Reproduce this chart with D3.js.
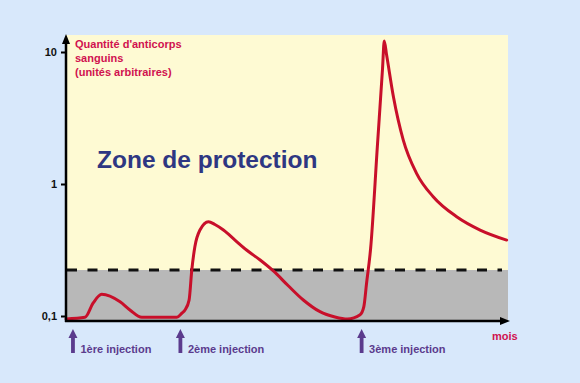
<!DOCTYPE html>
<html><head><meta charset="utf-8">
<script src="https://cdn.jsdelivr.net/npm/d3@7"></script>
<style>
html,body{margin:0;padding:0;background:#d8e8fb;}
svg{display:block;font-family:"Liberation Sans",Arial,Helvetica,sans-serif;font-weight:700;}
svg text{font-weight:700;}
</style></head><body>
<svg id="c" width="580" height="383"></svg>
<script>
// ---- data ----
const months = [0, 0.56, 0.80, 1.05, 1.59, 1.88, 2.23, 3.26, 3.41, 3.50, 3.62, 3.70, 3.79, 3.94, 4.19, 4.38, 4.63, 4.97, 5.31, 5.71, 6.10, 6.53, 6.98, 7.47, 7.91, 8.28, 8.65, 8.76, 8.84, 8.96, 9.16, 9.31, 9.36, 9.43, 9.63, 9.92, 10.31, 10.80, 11.49, 12.18, 12.96];
const anticorps = [0.0949, 0.0977, 0.1255, 0.146, 0.128, 0.111, 0.0977, 0.0977, 0.105, 0.111, 0.132, 0.223, 0.335, 0.448, 0.518, 0.4934, 0.448, 0.3764, 0.316, 0.2656, 0.2193, 0.1702, 0.1322, 0.1078, 0.0983, 0.0948, 0.102, 0.1176, 0.177, 0.326, 1.97, 7.5, 12.1, 9.49, 4.58, 2.15, 1.205, 0.801, 0.565, 0.448, 0.376];
const injectionMonths = [0.19, 3.35, 8.68];
const injectionLabels = ["1ère injection", "2ème injection", "3ème injection"];
const yTicks = [10, 1, 0.1];
const yTickLabels = ["10", "1", "0,1"];
const protectionThreshold = 0.223;
const xDomain = [0, 13];
const yDomainFull = [0.0917, 13.45];

// ---- layout ----
const svg = d3.select("#c");
const mLeft = 66, mRight = 508, mTop = 35, mBottom = 321;
const x = d3.scaleLinear().domain(xDomain).range([mLeft, mRight]);
const y = d3.scaleLog().domain([0.1, 10]).range([316, 52]);

// zones
svg.append("rect").attr("x", mLeft).attr("y", y(yDomainFull[1]))
  .attr("width", mRight - mLeft).attr("height", y(protectionThreshold) - y(yDomainFull[1]))
  .attr("fill", "#fefad3");
svg.append("rect").attr("x", mLeft).attr("y", y(protectionThreshold))
  .attr("width", mRight - mLeft).attr("height", y(yDomainFull[0]) - y(protectionThreshold))
  .attr("fill", "#b8b8b8");

// dashed threshold
svg.append("line").attr("x1", mLeft + 1).attr("x2", mRight - 6)
  .attr("y1", y(protectionThreshold)).attr("y2", y(protectionThreshold))
  .attr("stroke", "#111").attr("stroke-width", 3).attr("stroke-dasharray", "10,10.5");

// curve
const line = d3.line().x((d, i) => x(months[i])).y(d => y(d)).curve(d3.curveMonotoneX);
svg.append("path").datum(anticorps).attr("d", line)
  .attr("fill", "none").attr("stroke", "#c80f2a").attr("stroke-width", 3)
  .attr("stroke-linejoin", "round").attr("stroke-linecap", "round");

// axes
const yAxis = d3.axisLeft(y).tickValues(yTicks).tickFormat((d, i) => yTickLabels[i]).tickSize(5).tickPadding(4);
const gy = svg.append("g").attr("transform", `translate(${mLeft},0)`).call(yAxis);
gy.select(".domain").remove();
gy.selectAll(".tick line").attr("stroke", "#000").attr("stroke-width", 2);
gy.selectAll(".tick text").attr("fill", "#111").style("font-size", "11px").style("font-weight", "bold")
  .style("font-family", "'Liberation Sans',Arial,sans-serif");

svg.append("line").attr("x1", mLeft).attr("x2", mLeft).attr("y1", mBottom + 1).attr("y2", mTop + 6)
  .attr("stroke", "#000").attr("stroke-width", 2.5);
svg.append("path").attr("d", `M${mLeft},${mTop - 1} L${mLeft - 4},${mTop + 9} L${mLeft + 4},${mTop + 9} Z`).attr("fill", "#000");
svg.append("line").attr("x1", mLeft - 1).attr("x2", mRight - 4).attr("y1", mBottom).attr("y2", mBottom)
  .attr("stroke", "#000").attr("stroke-width", 2.5);
svg.append("path").attr("d", `M${mRight + 2},${mBottom} L${mRight - 8},${mBottom - 4} L${mRight - 8},${mBottom + 4} Z`).attr("fill", "#000");

// texts
const tq = svg.append("text").attr("x", 75).attr("fill", "#d0114f").style("font-size", "11px").style("font-weight", "bold");
["Quantité d'anticorps", "sanguins", "(unités arbitraires)"].forEach((t, i) =>
  tq.append("tspan").attr("x", 75).attr("y", 48 + i * 14).text(t));
svg.append("text").attr("x", 97).attr("y", 168).attr("fill", "#2e3782").style("font-size", "24.5px").style("font-weight", "bold").text("Zone de protection");
svg.append("text").attr("x", 492).attr("y", 340).attr("fill", "#d0114f").style("font-size", "11px").style("font-weight", "bold").text("mois");

// injection arrows
const inj = svg.selectAll(".inj").data(injectionMonths).enter().append("g");
inj.append("path").attr("d", d => {
  const cx = x(d) + 0.5;
  return `M${cx},329 L${cx - 4.5},338 L${cx - 1.9},338 L${cx - 1.9},353 L${cx + 1.9},353 L${cx + 1.9},338 L${cx + 4.5},338 Z`;
}).attr("fill", "#5b3b8d");
inj.append("text").attr("x", d => x(d) + 8).attr("y", 353).attr("fill", "#5b3b8d")
  .style("font-size", "11px").style("font-weight", "bold").text((d, i) => injectionLabels[i]);
</script>
</body></html>
